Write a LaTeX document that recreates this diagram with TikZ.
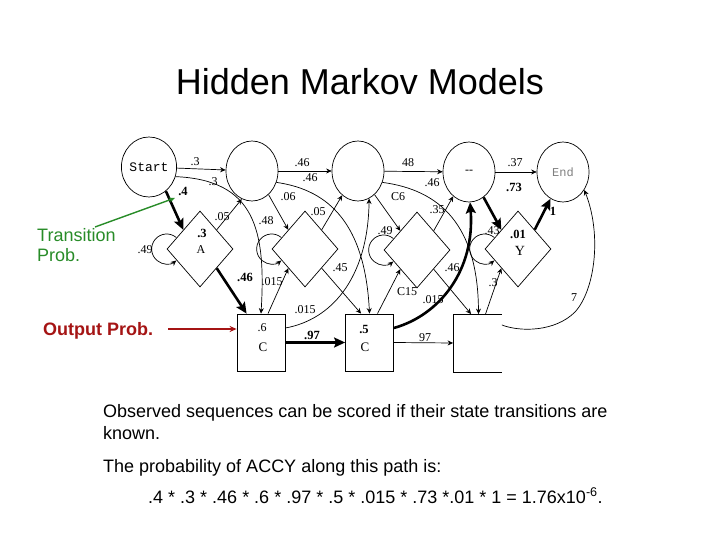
\documentclass[tikz,border=0pt]{standalone}
\usepackage{fontspec}
\setmainfont{Liberation Sans}
\newfontfamily\lserif{Liberation Serif}
\newfontfamily\lmono{Liberation Mono}
\usetikzlibrary{shapes.geometric,arrows.meta,calc}
\definecolor{tgreen}{RGB}{40,140,40}
\definecolor{ored}{RGB}{165,20,20}
\begin{document}
\begin{tikzpicture}[x=1pt,y=1pt,
 state/.style={ellipse,draw,line width=0.7pt,minimum width=52pt,minimum height=60pt,inner sep=0pt},
 ins/.style={diamond,draw,line width=0.7pt,minimum width=66pt,minimum height=76pt,inner sep=0pt},
 match/.style={rectangle,draw,line width=0.8pt,minimum width=48pt,minimum height=57pt,inner sep=0pt},
 tarr/.style={line width=0.7pt,-{Stealth[length=5.5pt,width=5pt]}},
 barr/.style={line width=2.6pt,-{Stealth[length=11pt,width=10pt,inset=2pt]}},
 lab/.style={font=\lserif\fontsize{12}{13}\selectfont,inner sep=0pt},
 blab/.style={font=\lserif\bfseries\fontsize{12.5}{13}\selectfont,inner sep=0pt},
 body/.style={font=\fontsize{18}{21}\selectfont,inner sep=0pt,anchor=base west},
 note/.style={font=\fontsize{18}{21}\selectfont,inner sep=0pt,anchor=base west},
]
\fill[white] (0,0) rectangle (720,-540);
\useasboundingbox (0,0) rectangle (720,-540);

% title
\node[font=\fontsize{36}{40}\selectfont,anchor=base,inner sep=0pt] (title) at (360,-95) {Hidden Markov Models};

% states
\node[state,font=\lmono\fontsize{13}{14}\selectfont] (st) at (149,-167) {Start};
\node[state] (c2) at (252,-171) {};
\node[state,font=\lserif\fontsize{12}{13}\selectfont] (c4) at (469,-172) {--};
\node[state] (c3) at (358,-171) {};
\node[state,font=\lmono\fontsize{12}{13}\selectfont,text=gray] (en) at (563,-172) {End};

\node[ins] (d1) at (200,-249) {};
\node[ins] (d2) at (305,-249) {};
\node[ins] (d3) at (417,-250) {};
\node[ins] (d4) at (518,-249) {};

\node[match] (m1) at (261,-342.5) {};
\node[match] (m2) at (369.5,-342.5) {};
\node[match,draw=none] (m3) at (477.5,-343) {};
\draw[line width=0.8pt] (m3.north east) -- (m3.north west) -- (m3.south west) -- (m3.south east);

% contents
\node[blab] (e1) at (202,-233) {.3};
\node[lab] (e2) at (201,-250) {A};
\node[blab] (e3) at (518,-234) {.01};
\node[lab,font=\lserif\fontsize{14}{15}\selectfont] (e4) at (520,-251) {Y};
\node[lab] (e5) at (262,-328) {.6};
\node[lab,font=\lserif\fontsize{13}{14}\selectfont] (e6) at (263,-347) {C};
\node[blab] (e7) at (364,-329) {.5};
\node[lab,font=\lserif\fontsize{13}{14}\selectfont] (e8) at (365,-347) {C};

% top horizontal transitions
\draw[tarr] (st) -- (c2);
\draw[tarr] (c2) -- (c3);
\draw[tarr] (c3) -- (c4);
\draw[tarr] (c4) -- (en);

% long arcs from delete states to match states
\draw[tarr] (st.-20) .. controls (255,-180) and (266,-230) .. (m1.north);
\draw[tarr] (c2.-25) .. controls (330,-190) and (365,-225) .. (m2.north);
\draw[tarr] (c3.-25) .. controls (440,-190) and (478,-225) .. ([xshift=1pt]m3.north);
\draw[tarr] (m1.east |- 0,-328) .. controls (330,-320) and (368,-280) .. (c3.-68);
\draw[tarr] (m3.north east |- 0,-325) .. controls (520,-332) and (555,-332) .. (575,-312)
           .. controls (595,-290) and (602,-235) .. (en.-40);

% delete -> insert
\draw[tarr] (c2.-55) -- (d2.north west);
\draw[tarr] (c3.-55) -- (d3.north west);
% insert -> delete
\draw[tarr] (d1.north east) -- (c2.250);
\draw[tarr] (d2.north east) -- (c3.237);
\draw[tarr] (d3.north east) -- (c4.237);
% insert -> match
\draw[tarr] (d2.south east) -- ([xshift=16pt]m2.north west);
\draw[tarr] (d3.south east) -- ([xshift=18pt]m3.north west);
% match -> insert
\draw[tarr] ([xshift=7pt]m1.north) -- (d2.south west);
\draw[tarr] ([xshift=8pt]m2.north) -- (d3.south west);
\draw[tarr] ([xshift=8pt]m3.north) -- (d4.south west);
% match -> match
\draw[tarr] (m2.east) -- (m3.west);

% self loops
\draw[tarr] ([shift={(50:15)}]d1.west) arc[start angle=50,end angle=310,radius=15];
\draw[tarr] ([shift={(50:15)}]d2.west) arc[start angle=50,end angle=310,radius=15];
\draw[tarr] ([shift={(50:15)}]d3.west) arc[start angle=50,end angle=310,radius=15];
\draw[tarr] ([shift={(50:15)}]d4.west) arc[start angle=50,end angle=310,radius=15];

% the bold path
\draw[barr] (st.-55) -- (d1.north west);
\draw[barr] (d1.south east) -- ([xshift=10pt]m1.north west);
\draw[barr] (m1.east) -- (m2.west);
\draw[barr] (m2.east |- 0,-328) .. controls (440,-315) and (475,-270) .. (c4.-88);
\draw[barr] (c4.-60) -- (d4.north west);
\draw[barr] (d4.north east) -- (en.-115);

% labels
\node[lab] (l1) at (195,-162) {.3};
\node[lab] (l2) at (302,-163) {.46};
\node[lab] (l3) at (408,-163) {48};
\node[lab] (l4) at (515,-163) {.37};
\node[lab] (l5) at (213,-182) {.3};
\node[lab] (l6) at (310,-178) {.46};
\node[lab] (l7) at (432,-183) {.46};
\node[blab] (l8) at (183,-191) {.4};
\node[lab] (l9) at (288,-197) {.06};
\node[lab] (l10) at (398,-197) {C6};
\node[blab] (l11) at (514,-187) {.73};
\node[lab] (l12) at (222,-217) {.05};
\node[lab] (l13) at (318,-212) {.05};
\node[lab] (l14) at (437,-210) {.35};
\node[lab] (l15) at (266,-221) {.48};
\node[lab] (l16) at (385,-231) {.49};
\node[lab] (l17) at (492,-231) {.43};
\node[lab] (l18) at (145,-250) {.49};
\node[blab] (l19) at (553,-211) {1};
\node[blab] (l20) at (245,-277) {.46};
\node[lab] (l21) at (272,-282) {.015};
\node[lab] (l22) at (340,-268) {.45};
\node[lab] (l23) at (452,-268) {.46};
\node[lab] (l24) at (407,-292) {C15};
\node[lab] (l25) at (305,-310) {.015};
\node[lab] (l26) at (433,-300) {.015};
\node[lab] (l27) at (493,-283) {.3};
\node[lab] (l28) at (574,-298) {7};
\node[blab] (l29) at (312,-335) {.97};
\node[lab] (l30) at (425,-338) {97};

% annotations
\node[note,text=tgreen] (tr1) at (37,-241.5) {Transition};
\node[note,text=tgreen] (tr2) at (37,-261) {Prob.};
\coordinate (gtip) at (175,-198);
\draw[tgreen,line width=1.4pt,-{Stealth[length=6pt,width=5pt]}] (95,-227) -- (gtip);
\node[note,text=ored,font=\bfseries\fontsize{18}{21}\selectfont] (op) at (43,-335.5) {Output Prob.};
\draw[ored,line width=1.4pt,-{Stealth[length=7pt,width=6pt]}] (168,-329) -- (m1.west |- 0,-329);

% body text
\node[body] (t1) at (103,-417) {Observed sequences can be scored if their state transitions are};
\node[body] (t2) at (103,-439) {known.};
\node[body] (t3) at (103,-472) {The probability of ACCY along this path is:};
\node[body] (t4) at (148,-503) {.4 * .3 * .46 * .6 * .97 * .5 * .015 * .73 *.01 * 1 = 1.76x10\textsuperscript{-6}.};
\end{tikzpicture}
\end{document}
